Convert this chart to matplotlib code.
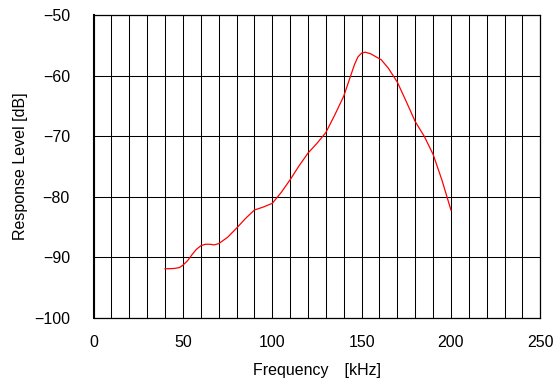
import matplotlib
matplotlib.use('Agg')
import matplotlib.pyplot as plt
import numpy as np

plt.rcParams['font.family'] = ['Liberation Sans', 'Noto Sans CJK JP', 'DejaVu Sans']
plt.rcParams['axes.unicode_minus'] = True

# 周波数特性（読み取り値）
freq_khz = [40, 45, 48, 50, 52.5, 55, 57.5, 60, 62.5, 65, 67.5, 70, 75, 80, 85,
            90, 95, 100, 105, 110, 115, 120, 125, 130, 135, 140, 143, 146, 148,
            150, 152, 155, 158, 161, 165, 170, 175, 180, 185, 190, 195, 200]
level_db = [-91.9, -91.85, -91.7, -91.3, -90.6, -89.6, -88.7, -88.1, -87.85,
            -87.85, -87.95, -87.75, -86.7, -85.2, -83.6, -82.2, -81.7, -81.1,
            -79.3, -77.2, -74.9, -72.8, -71.2, -69.4, -66.5, -63.4, -60.8,
            -58.2, -56.9, -56.3, -56.15, -56.4, -56.9, -57.4, -58.8, -61.1,
            -64.3, -67.6, -70.0, -73.0, -77.3, -82.2]

x_ticks = [0, 50, 100, 150, 200, 250]
y_ticks = [-100, -90, -80, -70, -60, -50]

fig = plt.figure(figsize=(5.57, 3.83), dpi=100)
ax = fig.add_axes([0.168, 0.170, 0.802, 0.791])

ax.plot(freq_khz, level_db, color='red', linewidth=0.9)

ax.set_xlim(0, 250)
ax.set_ylim(-100, -50)
ax.set_xticks(x_ticks)
ax.set_xticks(np.arange(0, 251, 10), minor=True)
ax.set_yticks(y_ticks)
ax.grid(True, which='both', axis='x', color='black', linewidth=0.75)
ax.grid(True, which='major', axis='y', color='black', linewidth=0.75)
ax.tick_params(which='both', length=0, labelsize=11.5)
ax.tick_params(axis='y', pad=17)
ax.tick_params(axis='x', pad=12)
for s in ax.spines.values():
    s.set_linewidth(0.9)
ax.spines['left'].set_linewidth(1.5)

ax.set_xlabel('Frequency\u3000[kHz]', fontsize=11.5, labelpad=10)
ax.set_ylabel('Response Level [dB]', fontsize=11.5, labelpad=4)

plt.savefig('out.png', dpi=100)
